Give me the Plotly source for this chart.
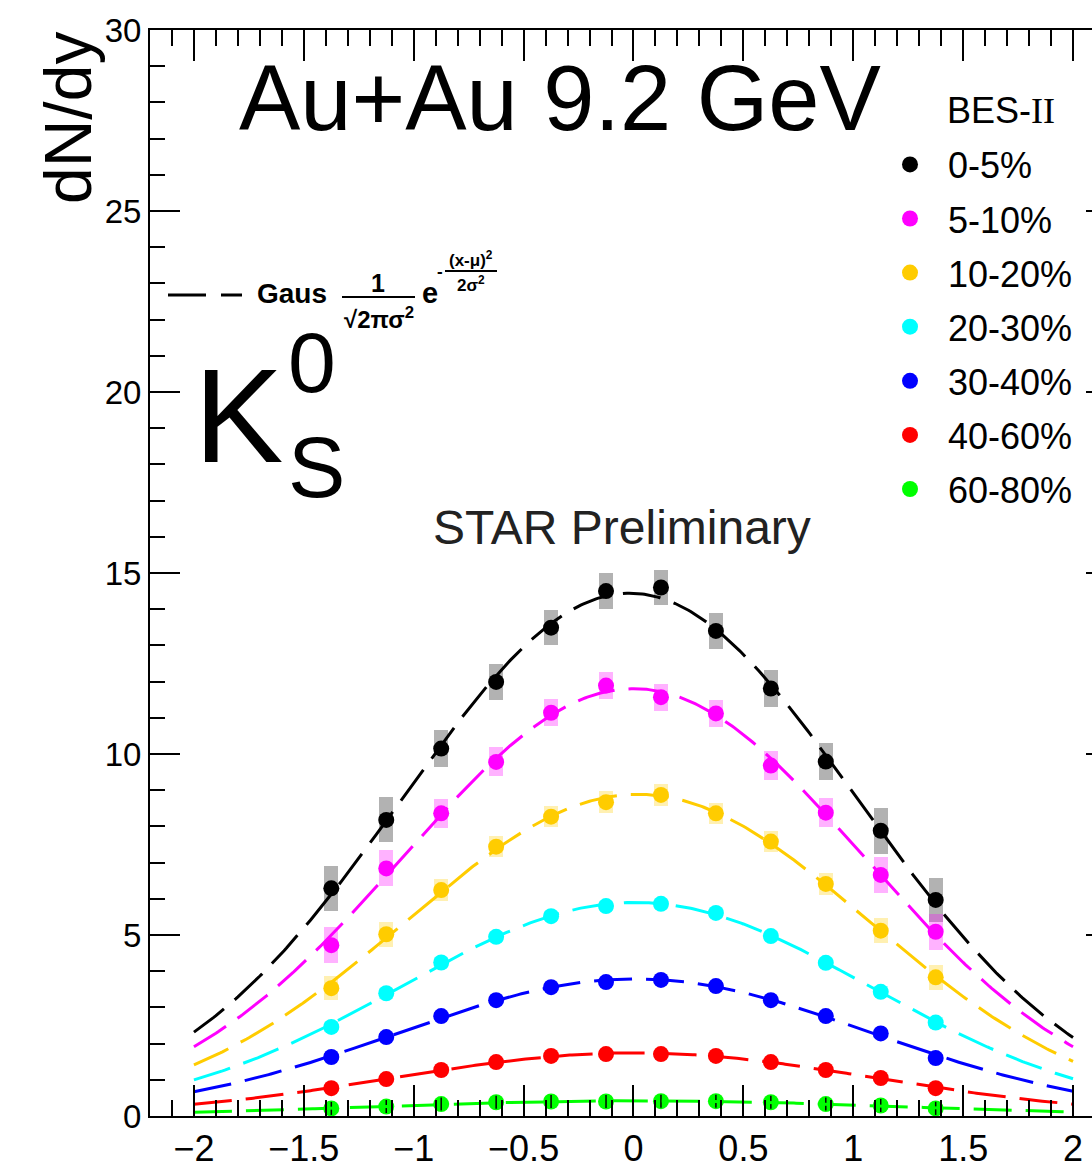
import numpy as np
import plotly.graph_objects as go

# ---------------- data ----------------
rapidity = [-1.375, -1.125, -0.875, -0.625, -0.375, -0.125,
            0.125, 0.375, 0.625, 0.875, 1.125, 1.375]

centralities = ["0-5%", "5-10%", "10-20%", "20-30%", "30-40%", "40-60%", "60-80%"]
colors = ["#000000", "#ff00ff", "#ffcc00", "#00ffff", "#0000ff", "#ff0000", "#00ff00"]
box_colors = ["rgba(0,0,0,0.3)", "rgba(255,0,255,0.3)", "rgba(255,204,0,0.3)",
              "rgba(0,255,255,0.3)", "rgba(0,0,255,0.3)", "rgba(255,0,0,0.3)",
              "rgba(0,255,0,0.3)"]

dndy_0_5 = [6.29, 8.18, 10.15, 11.99, 13.49, 14.50, 14.60, 13.40, 11.81, 9.79, 7.88, 5.97]
dndy_5_10 = [4.72, 6.84, 8.36, 9.78, 11.14, 11.89, 11.57, 11.12, 9.68, 8.38, 6.66, 5.09]
dndy_10_20 = [3.53, 5.02, 6.24, 7.44, 8.27, 8.67, 8.87, 8.36, 7.58, 6.41, 5.12, 3.83]
dndy_20_30 = [2.46, 3.39, 4.24, 4.95, 5.52, 5.80, 5.86, 5.61, 4.97, 4.23, 3.43, 2.58]
dndy_30_40 = [1.63, 2.18, 2.76, 3.20, 3.56, 3.70, 3.76, 3.59, 3.20, 2.76, 2.28, 1.60]
dndy_40_60 = [0.77, 1.02, 1.27, 1.49, 1.66, 1.71, 1.71, 1.66, 1.49, 1.27, 1.05, 0.77]
dndy_60_80 = [0.21, 0.26, 0.33, 0.38, 0.40, 0.40, 0.41, 0.41, 0.38, 0.33, 0.29, 0.21]

sys_0_5 = [0.63, 0.62, 0.50, 0.50, 0.49, 0.49, 0.49, 0.49, 0.50, 0.51, 0.63, 0.60]
sys_5_10 = [0.50, 0.50, 0.41, 0.40, 0.37, 0.37, 0.37, 0.37, 0.40, 0.41, 0.50, 0.50]
sys_10_20 = [0.33, 0.35, 0.30, 0.29, 0.29, 0.30, 0.30, 0.29, 0.29, 0.30, 0.35, 0.34]
sys_20_30 = [0.15, 0.15, 0.14, 0.14, 0.14, 0.14, 0.14, 0.14, 0.14, 0.14, 0.15, 0.15]
sys_30_40 = [0.10, 0.10, 0.10, 0.10, 0.10, 0.10, 0.10, 0.10, 0.10, 0.10, 0.10, 0.10]
sys_40_60 = [0.06, 0.06, 0.06, 0.06, 0.06, 0.06, 0.06, 0.06, 0.06, 0.06, 0.06, 0.06]
sys_60_80 = [0.03, 0.03, 0.03, 0.03, 0.03, 0.03, 0.03, 0.03, 0.03, 0.03, 0.03, 0.03]

stat_60_80 = [0.18, 0.18, 0.18, 0.18, 0.18, 0.18, 0.18, 0.18, 0.18, 0.18, 0.18, 0.18]

x_ticks = [-2, -1.5, -1, -0.5, 0, 0.5, 1, 1.5, 2]
x_tick_labels = ["−2", "−1.5", "−1", "−0.5", "0", "0.5", "1", "1.5", "2"]
y_ticks = [0, 5, 10, 15, 20, 25, 30]

series = [dndy_0_5, dndy_5_10, dndy_10_20, dndy_20_30, dndy_30_40, dndy_40_60, dndy_60_80]
systs = [sys_0_5, sys_5_10, sys_10_20, sys_20_30, sys_30_40, sys_40_60, sys_60_80]

# ---------------- geometry ----------------
W, H = 1092, 1168
L, T, B = 150, 30, 52
SANS = "Liberation Sans, Arial, Helvetica, sans-serif"
SERIF = "Liberation Serif, Times New Roman, serif"


def px(xp):
    return (xp - L) / (W - L)


def py(yp):
    return (H - B - yp) / (H - T - B)


def gaus_fit(x, y):
    x = np.asarray(x, float)
    y = np.asarray(y, float)
    c2, c1, c0 = np.polyfit(x, np.log(y), 2, w=y)
    s2 = -1.0 / (2.0 * c2)
    mu = c1 * s2
    amp = np.exp(c0 + mu ** 2 / (2.0 * s2))
    return amp, mu, s2


fig = go.Figure()

x_arr = np.asarray(rapidity)
box_w = 0.064

# systematic boxes
for yv, sv, bc in zip(series, systs, box_colors):
    yv = np.asarray(yv)
    sv = np.asarray(sv)
    fig.add_trace(go.Bar(x=x_arr, y=2 * sv, base=yv - sv, width=box_w,
                         marker=dict(color=bc, line=dict(width=0)),
                         showlegend=False, hoverinfo="skip"))

# markers
for name, yv, col in zip(centralities, series, colors):
    fig.add_trace(go.Scatter(x=rapidity, y=yv, mode="markers", name=name,
                             legendgroup=name,
                             marker=dict(symbol="circle", size=16, color=col,
                                         line=dict(width=0))))

# stat error visible on lowest class
fig.add_trace(go.Scatter(x=rapidity, y=dndy_60_80, mode="markers",
                         marker=dict(size=1, opacity=0),
                         error_y=dict(type="data", array=stat_60_80, color="black",
                                      thickness=1.5, width=0),
                         showlegend=False, hoverinfo="skip"))

# gaussian fits
xs = np.linspace(-2, 2, 401)
for yv, col in zip(series, colors):
    amp, mu, s2 = gaus_fit(rapidity, yv)
    ys = amp * np.exp(-(xs - mu) ** 2 / (2 * s2))
    fig.add_trace(go.Scatter(x=xs, y=ys, mode="lines", yaxis="y2",
                             line=dict(color=col, width=3, dash="38px,14px"),
                             showlegend=False, hoverinfo="skip"))

xr = [-2.2, -2.2 + (W - L) / 219.77]


def ann(text, xp, yp, size, xanchor="left", color="black", family=SANS, angle=0):
    return dict(text=text, x=px(xp), y=py(yp), xref="paper", yref="paper",
                xanchor=xanchor, yanchor="middle", showarrow=False, textangle=angle,
                font=dict(size=size, family=family, color=color))


annotations = [
    ann("Au+Au 9.2 GeV", 237, 98, 92),
    ann("dN/dy", 68, 118, 66, xanchor="center", angle=-90),
    ann("STAR Preliminary", 622, 527, 48, xanchor="center", color="#222222"),
    ann("K", 192, 415, 134),
    ann("0", 286, 362, 86),
    ann("S", 286, 467, 86),
    ann("<b>Gaus</b>", 255, 293, 28),
    ann("<b>1</b>", 378, 283, 25, xanchor="center"),
    ann("<b>√2πσ<sup>2</sup></b>", 379, 318, 24, xanchor="center"),
    ann("<b>e</b>", 430, 293, 29, xanchor="center"),
    ann("<b>-</b>", 440, 271, 17, xanchor="center"),
    ann("<b>(x-μ)<sup>2</sup></b>", 471, 259, 17, xanchor="center"),
    ann("<b>2σ<sup>2</sup></b>", 471, 284, 17, xanchor="center"),
    ann("BES-<span style='font-family:Liberation Serif'>II</span>", 945, 111, 36),
]

shapes = [
    dict(type="line", xref="paper", yref="paper", x0=px(168), x1=px(242), y0=py(295), y1=py(295),
         line=dict(color="black", width=3, dash="38px,15px")),
    dict(type="line", xref="paper", yref="paper", x0=px(342), x1=px(415), y0=py(297), y1=py(297),
         line=dict(color="black", width=2)),
    dict(type="line", xref="paper", yref="paper", x0=px(445), x1=px(497), y0=py(271), y1=py(271),
         line=dict(color="black", width=2)),
]

fig.update_layout(
    width=W, height=H, autosize=False,
    margin=dict(l=L, r=0, t=T, b=B, pad=0, autoexpand=False),
    paper_bgcolor="white", plot_bgcolor="white",
    barmode="overlay", bargap=0,
    font=dict(family=SANS, color="black"),
    xaxis=dict(range=xr, showgrid=False, zeroline=False, automargin=False,
               showline=True, linecolor="black", linewidth=2, mirror="ticks",
               ticks="inside", ticklen=31, tickwidth=1.5, tickcolor="black",
               tickmode="array", tickvals=x_ticks, ticktext=x_tick_labels,
               minor=dict(dtick=0.1, tick0=0, ticklen=16, tickwidth=1.5,
                          tickcolor="black", ticks="inside"),
               tickfont=dict(size=36, family=SANS, color="black"),
               ticklabelstandoff=0),
    yaxis=dict(range=[0, 30], showgrid=False, zeroline=False, automargin=False,
               showline=True, linecolor="black", linewidth=2,
               ticks="inside", ticklen=30, tickwidth=1.5, tickcolor="black",
               tickmode="array", tickvals=y_ticks,
               minor=dict(dtick=1, tick0=0, ticklen=15, tickwidth=1.5,
                          tickcolor="black", ticks="inside"),
               tickfont=dict(size=33, family=SANS, color="black"),
               ticklabelstandoff=0),
    yaxis2=dict(range=[0, 30], overlaying="y", side="right", showgrid=False,
                zeroline=False, showline=False, ticks="inside", ticklen=6,
                automargin=False,
                tickwidth=1.5, tickcolor="black", tickmode="array", tickvals=y_ticks,
                showticklabels=False),
    legend=dict(x=px(872), y=py(134.5), xanchor="left", yanchor="top",
                bgcolor="rgba(0,0,0,0)", borderwidth=0,
                font=dict(size=36, family=SANS, color="black"),
                itemwidth=66, tracegroupgap=4.3, traceorder="grouped"),
    annotations=annotations,
    shapes=shapes,
)

fig.write_html("out.html", config={"displayModeBar": False},
               post_script="document.body.style.margin='0';")
